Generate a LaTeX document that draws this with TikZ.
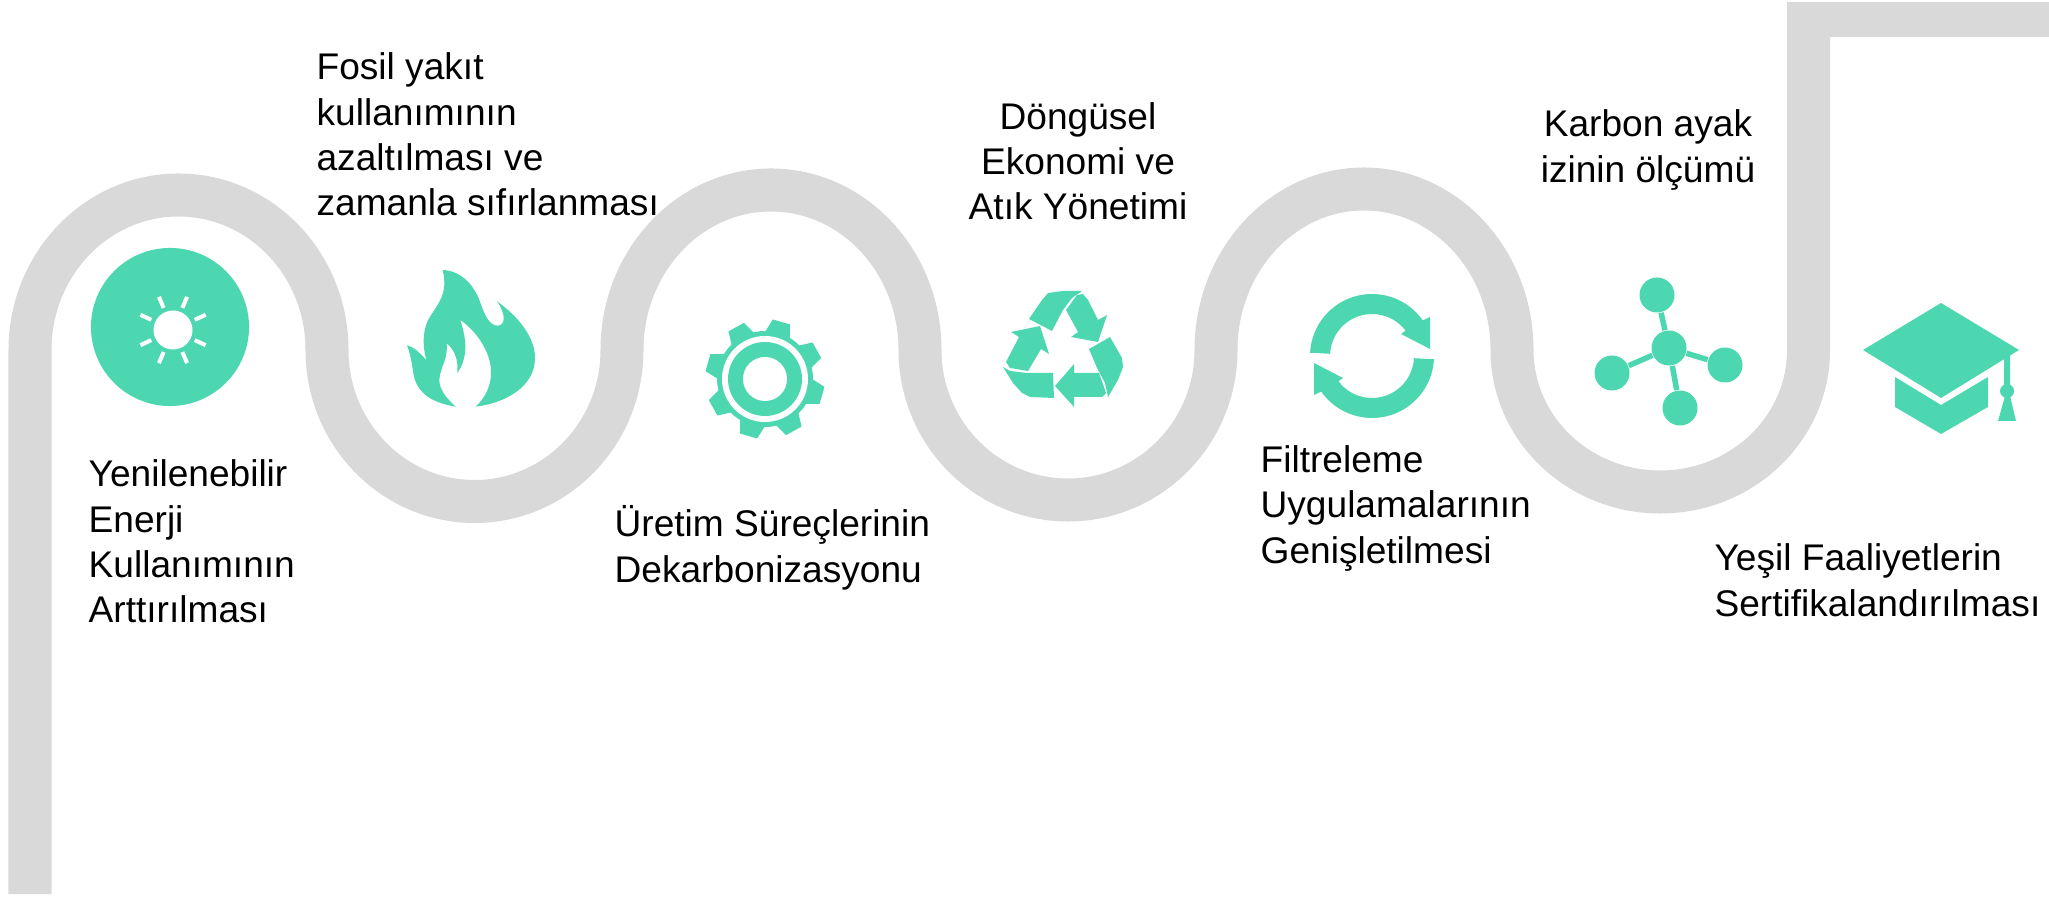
\documentclass[tikz,border=0pt]{standalone}
\usepackage{fontspec}
\setmainfont{Liberation Sans}
\usetikzlibrary{positioning}
\definecolor{icongreen}{RGB}{77,215,177}
\definecolor{bandgray}{RGB}{217,217,217}
\begin{document}
\begin{tikzpicture}[
x=0.01cm,y=-0.01cm,
steptext/.style={font=\fontsize{10.55pt}{12.9pt}\selectfont, inner sep=0pt, align=left, text=black},
centertext/.style={steptext, align=center},
atom/.style={circle, fill=icongreen, minimum size=0.35cm, inner sep=0pt},
bond/.style={icongreen, line width=0.055cm},
sunray/.style={white, line width=0.04cm},
band/.style={bandgray, line width=0.43cm}
]
\useasboundingbox (0,0) rectangle (2049,898);
%Band
\draw[band] (30,894) -- (30,350)
  arc[start angle=180,end angle=360,x radius=148.5,y radius=155]
  arc[start angle=180,end angle=0,x radius=147.5,y radius=151.5]
  arc[start angle=180,end angle=360,x radius=149,y radius=160]
  arc[start angle=180,end angle=0,x radius=148,y radius=150]
  arc[start angle=180,end angle=360,x radius=148,y radius=161]
  arc[start angle=180,end angle=0,x radius=148.25,y radius=142]
  -- (1808.5,20);
\fill[bandgray] (1787,2) rectangle (2049,37);
%Icon places
\coordinate (flame) at (470,340);
\coordinate (gear) at (765,379);
\coordinate (recycle) at (1063,345);
\coordinate (arrows) at (1372,356);
\coordinate (cap) at (1941,368);
%Sun
\node[circle, fill=icongreen, minimum size=1.58cm, inner sep=0pt] (sun) at (170,327) {};
\node[circle, fill=white, minimum size=0.39cm, inner sep=0pt] (suncore) at (173,330) {};
\begin{scope}[shift={(suncore)}]
\foreach \a in {25,67,113,155,205,247,293,335}
  \draw[sunray] (\a:24) -- (\a:36);
\end{scope}
%Flame
\begin{scope}[shift={(395,260)},scale=0.3333]
\fill[icongreen] (143,30) .. controls (195,32) and (235,70) .. (255,125)
  .. controls (270,170) and (285,197) .. (308,197)
  .. controls (330,197) and (335,165) .. (306,124)
  .. controls (370,170) and (420,230) .. (420,295)
  .. controls (420,380) and (330,430) .. (242,440)
  .. controls (275,410) and (290,370) .. (288,330)
  .. controls (285,270) and (240,210) .. (196,180)
  .. controls (215,240) and (220,290) .. (187,340)
  .. controls (190,300) and (180,270) .. (155,250)
  .. controls (160,300) and (135,320) .. (133,360)
  .. controls (133,390) and (155,415) .. (182,440)
  .. controls (110,428) and (65,400) .. (55,340)
  .. controls (50,305) and (45,280) .. (36,256)
  .. controls (60,262) and (80,285) .. (94,300)
  .. controls (80,250) and (85,200) .. (105,170)
  .. controls (130,130) and (160,100) .. (143,30) -- cycle;
\end{scope}
%Gear
\begin{scope}[shift={(gear)}]
\foreach \a in {-74,-29,16,61,106,151,196,241}
  \fill[icongreen] (\a-16:47) -- (\a-8.5:60) -- (\a+8.5:60) -- (\a+16:47) -- cycle;
\fill[icongreen] (0,0) circle[radius=48];
\fill[white] (0,0) circle[radius=43];
\fill[icongreen] (0,0) circle[radius=37];
\fill[white] (0,0) circle[radius=22];
\end{scope}
%Recycle
\fill[icongreen] (1029,319) -- (1042,300) -- (1048,293) -- (1063,291) -- (1082,291) -- (1072,298) -- (1063,310) -- (1052,331) -- cycle;
\fill[icongreen] (1066,310) -- (1077,295) -- (1083,294) -- (1088,300) -- (1098,320) -- (1107,315) -- (1098,342) -- (1071,337) -- (1078,332) -- cycle;
\fill[icongreen] (1089,349) -- (1110,337) -- (1122,358) -- (1123,367) -- (1118,380) -- (1108,397) -- (1105,383) -- (1097,368) -- cycle;
\fill[icongreen] (1099,373) -- (1104,387) -- (1106,393) -- (1102,397) -- (1074,397) -- (1074,407) -- (1055,386) -- (1074,364) -- (1074,373) -- cycle;
\fill[icongreen] (1003,367) -- (1010,371) -- (1027,373) -- (1053,373) -- (1054,398) -- (1030,397) -- (1022,393) -- (1013,383) -- cycle;
\fill[icongreen] (1006,362) -- (1019,337) -- (1011,332) -- (1040,326) -- (1049,354) -- (1041,349) -- (1028,371) -- (1010,368) -- cycle;
%Round arrows
\begin{scope}[shift={(arrows)}]
\foreach \a in {0,180}
  \fill[icongreen,rotate=\a] (183:62) arc[start angle=183,end angle=325,radius=62]
    -- (58,-39) -- (58,-7) -- (29,-22) -- (323:42) arc[start angle=323,end angle=183,radius=42] -- cycle;
\end{scope}
%Molecule
\node[atom] (hub) at (1669,348) {};
\node[atom] (atomtop) at (1657,295) {};
\node[atom] (atomright) at (1725,365) {};
\node[atom] (atombottom) at (1680,408) {};
\node[atom] (atomleft) at (1612,373) {};
\draw[bond] (hub) -- (atomtop);
\draw[bond] (hub) -- (atomright);
\draw[bond] (hub) -- (atombottom);
\draw[bond] (hub) -- (atomleft);
%Cap
\fill[icongreen] (1941,303) -- (2019,350) -- (1941,398) -- (1863,350) -- cycle;
\fill[icongreen] (1895,377) -- (1941,405) -- (1988,377) -- (1988,407) -- (1941,434) -- (1895,407) -- cycle;
\fill[icongreen] (2004,359) -- (2010,355) -- (2010,387) -- (2004,387) -- cycle;
\fill[icongreen] (2007,391) circle[radius=7];
\fill[icongreen] (2005,396) -- (2010,396) -- (2016,421) -- (1998,421) -- cycle;
%Labels
\node[steptext] (yenilenebilir) [below right=1.32cm and -0.82cm of sun.center] {Yenilenebilir\\Enerji\\Kullanımının\\Arttırılması};
\node[steptext] (fosil) [above right=1.23cm and -1.54cm of flame] {Fosil yakıt\\kullanımının\\azaltılması ve\\zamanla sıfırlanması};
\node[steptext] (uretim) [below right=1.26cm and -1.51cm of gear] {Üretim Süreçlerinin\\Dekarbonizasyonu};
\node[centertext] (dongusel) [above=1.24cm of recycle,xshift=0.15cm] {Döngüsel\\Ekonomi ve\\Atık Yönetimi};
\node[steptext] (filtreleme) [below right=0.89cm and -1.12cm of arrows] {Filtreleme\\Uygulamalarının\\Genişletilmesi};
\node[centertext] (karbon) [above=1.57cm of hub.center,xshift=-0.21cm] {Karbon ayak\\izinin ölçümü};
\node[steptext] (yesil) [below right=1.75cm and -2.27cm of cap] {Yeşil Faaliyetlerin\\Sertifikalandırılması};
\end{tikzpicture}
\end{document}
